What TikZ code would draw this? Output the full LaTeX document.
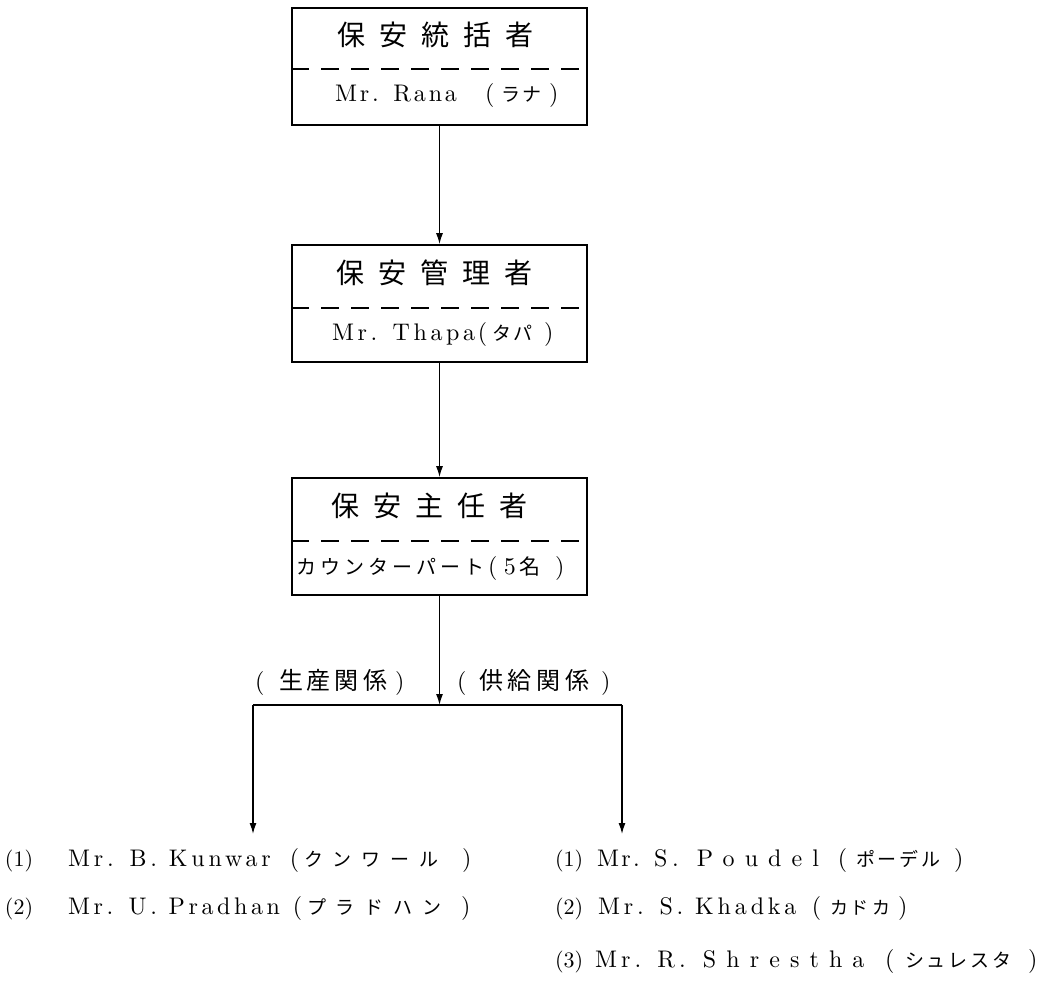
\documentclass[tikz,border=0pt]{standalone}
\usepackage{fontspec}
\setmainfont{lmroman10-regular.otf}
\newfontfamily\jp{Noto Sans CJK JP}
\usetikzlibrary{arrows.meta}
\newcommand\lmf[1]{\fontsize{#1}{#1}\selectfont}
\newcommand\jpf[1]{\jp\fontsize{#1}{#1}\selectfont}
\newcommand\ls[1]{\addfontfeatures{LetterSpace=#1}}
\newcommand\kg[1]{\hspace{#1pt}}
\newcommand\cell[2]{\makebox[#1pt][l]{#2}}
\newcommand\num[1]{{\lmf{22}(#1)}}
\tikzset{
  box/.style={draw, line width=1.6pt, minimum width=295pt, inner sep=0pt},
  sep/.style={line width=1.1pt, dash pattern=on 18pt off 12pt},
  conn/.style={line width=1.4pt},
  arr/.style={line width=1.4pt, -{Latex[length=11pt,width=7pt]}},
  txt/.style={inner sep=0pt, outer sep=0pt},
  row/.style={inner sep=0pt, outer sep=0pt, anchor=base west, font=\lmf{24}}
}
\begin{document}
\begin{tikzpicture}[x=1pt,y=-1pt]
\useasboundingbox (0,0) rectangle (1046,999);
% boxes
\node[box, minimum height=117pt] (b1) at (439.5,66.5) {};
\node[box, minimum height=117pt] (b2) at (439.5,303.5) {};
\node[box, minimum height=117pt] (b3) at (439.5,536.5) {};
% dashed separators
\draw[sep] (b1.west |- 0,69) -- (b1.east |- 0,69);
\draw[sep] (b2.west |- 0,308) -- (b2.east |- 0,308);
\draw[sep] (b3.west |- 0,541) -- (b3.east |- 0,541);
% titles
\node[txt] (t1) at (435,35) {\jpf{28}保\kg{14}安\kg{14}統\kg{14}括\kg{14}者};
\node[txt] (t2) at (434,273) {\jpf{28}保\kg{14}安\kg{14}管\kg{14}理\kg{14}者};
\node[txt] (t3) at (429,506) {\jpf{28}保\kg{14}安\kg{14}主\kg{14}任\kg{14}者};
% names in boxes
\node[row] (n1) at (335,101) {\cell{150}{\ls{12}Mr. Rana}\cell{16}{(}\cell{48}{\jpf{19}ラ\kg{2}ナ})};
\node[row] (n2) at (332,340) {\cell{146}{\ls{15}Mr. Thapa}\cell{14}{(}\cell{52}{\jpf{19}タ\kg{3}パ})};
\node[row] (n3) at (296,574) {\cell{192}{\jpf{20}カ\kg{4}ウ\kg{4}ン\kg{4}タ\kg{4}ー\kg{4}パ\kg{4}ー\kg{4}ト}\cell{16}{(}\cell{15}{5}\cell{36}{\jpf{21}名})};
% arrows between boxes
\draw[arr] (b1.south) -- (b2.north);
\draw[arr] (b2.south) -- (b3.north);
% branch
\coordinate (j) at (439.5,705);
\coordinate (jl) at (253,705);
\coordinate (jr) at (622,705);
\coordinate (el) at (253,834);
\coordinate (er) at (622,834);
\draw[arr] (b3.south) -- (j);
\draw[conn] (jl) -- (jr);
\draw[arr] (jl) -- (el);
\draw[arr] (jr) -- (er);
% branch labels
\node[row] (lp) at (255,689) {\cell{24}{(}\cell{116}{\jpf{24}生\kg{4}産\kg{4}関\kg{4}係})};
\node[row] (ls) at (457,689) {\cell{22}{(}\cell{122}{\jpf{24}供\kg{5}給\kg{5}関\kg{5}係})};
% left column
\node[row] (l1) at (5,866) {\cell{63}{\num{1}}\cell{222}{\ls{16}Mr. B. Kunwar}\cell{14}{(}\cell{158}{\jpf{19}ク\kg{10}ン\kg{10}ワ\kg{10}ー\kg{10}ル})};
\node[row] (l2) at (5,914) {\cell{63}{\num{2}}\cell{225}{\ls{15}Mr. U. Pradhan}\cell{14}{(}\cell{154}{\jpf{19}プ\kg{10}ラ\kg{10}ド\kg{10}ハ\kg{10}ン})};
% right column
\node[row] (r1) at (555,866) {\cell{42}{\num{1}}\cell{57}{\ls{10}Mr.}\cell{43}{\ls{20}S.}\cell{141}{\ls{42}Poudel}\cell{18}{(}\cell{98}{\jpf{19}ポ\kg{3}ー\kg{3}デ\kg{3}ル})};
\node[row] (r2) at (555,914) {\cell{43}{\num{2}}\cell{214}{\ls{16}Mr. S. Khadka}\cell{18}{(}\cell{68}{\jpf{18}カ\kg{3}ド\kg{3}カ})};
\node[row] (r3) at (555,967) {\cell{40}{\num{3}}\cell{108}{\ls{17}Mr. R.}\cell{182}{\ls{42}Shrestha}\cell{20}{(}\cell{123}{\jpf{19}シ\kg{3}ュ\kg{3}レ\kg{3}ス\kg{3}タ})};
\end{tikzpicture}
\end{document}
